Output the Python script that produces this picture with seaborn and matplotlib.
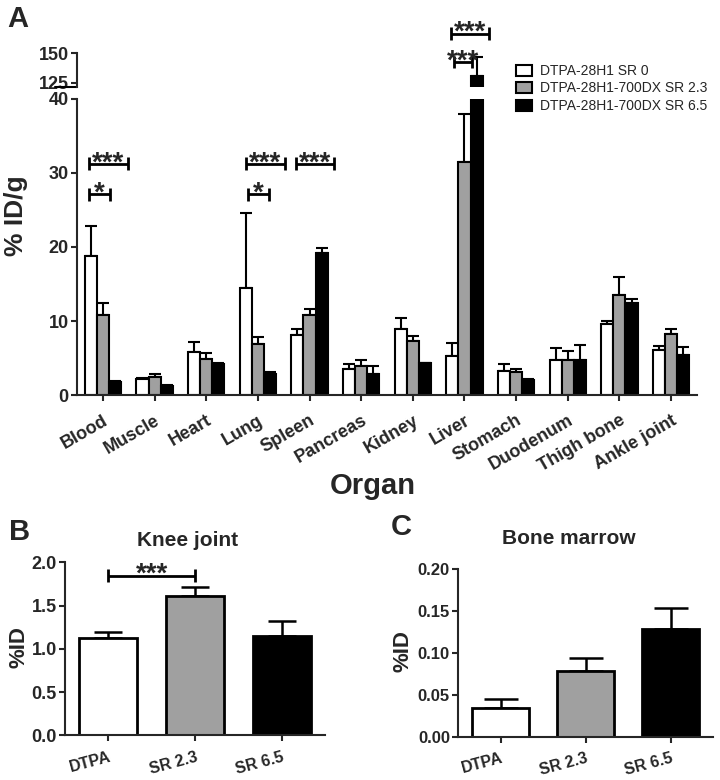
import pandas as pd
import matplotlib
matplotlib.use("Agg")
import matplotlib.pyplot as plt
import seaborn as sns
from matplotlib.patches import Patch

# Panel A: biodistribution, %ID/g (mean and SD)
organs = ["Blood", "Muscle", "Heart", "Lung", "Spleen", "Pancreas", "Kidney",
          "Liver", "Stomach", "Duodenum", "Thigh bone", "Ankle joint"]
groups = ["DTPA-28H1 SR 0", "DTPA-28H1-700DX SR 2.3", "DTPA-28H1-700DX SR 6.5"]

sr0_mean = [18.8, 2.2, 5.8, 14.5, 8.1, 3.5, 8.9, 5.3, 3.3, 4.7, 9.6, 6.1]
sr0_sd = [4.0, 0.1, 1.4, 10.1, 0.8, 0.7, 1.5, 1.7, 0.9, 1.7, 0.4, 0.5]
sr23_mean = [10.8, 2.5, 4.9, 6.9, 10.8, 4.0, 7.3, 31.4, 3.2, 4.7, 13.5, 8.3]
sr23_sd = [1.6, 0.4, 0.8, 1.0, 0.8, 0.7, 0.7, 6.5, 0.3, 1.3, 2.4, 0.7]
sr65_mean = [1.8, 1.3, 4.2, 2.9, 19.2, 2.9, 4.3, 131.0, 2.1, 4.7, 12.5, 5.4]
sr65_sd = [0.1, 0.1, 0.2, 0.3, 0.7, 1.0, 0.1, 16.0, 0.1, 2.1, 0.5, 1.1]

# Panels B and C
conds = ["DTPA", "SR 2.3", "SR 6.5"]
knee_mean = [1.13, 1.61, 1.15]
knee_sd = [0.07, 0.11, 0.17]
marrow_mean = [0.035, 0.079, 0.128]
marrow_sd = [0.010, 0.015, 0.025]

# significance brackets: (organ, left offset, right offset, height, label)
sig_a = [("Blood", -0.27, 0.14, 27.1, "*"),
         ("Blood", -0.27, 0.48, 31.2, "***"),
         ("Lung", -0.19, 0.21, 27.1, "*"),
         ("Lung", -0.23, 0.52, 31.2, "***"),
         ("Spleen", -0.27, 0.48, 31.2, "***")]
sig_liver = [(-0.21, 0.15, 142.5, "***"),
             (-0.27, 0.48, 166.7, "***")]

colors = ["white", "#a0a0a0", "black"]

sns.set_style("ticks")
plt.rcParams["font.family"] = ["Liberation Sans", "DejaVu Sans"]
plt.rcParams["font.weight"] = "bold"
plt.rcParams["axes.linewidth"] = 1.5
plt.rcParams["xtick.major.width"] = 1.5
plt.rcParams["ytick.major.width"] = 1.5
plt.rcParams["xtick.major.size"] = 4
plt.rcParams["ytick.major.size"] = 4

df = pd.DataFrame({
    "organ": organs * 3,
    "group": [g for g in groups for _ in organs],
    "value": sr0_mean + sr23_mean + sr65_mean,
})
sds = [sr0_sd, sr23_sd, sr65_sd]

fig = plt.figure(figsize=(7.2, 7.8), dpi=100)
ax_lo = fig.add_axes([0.107, 0.4932, 0.861, 0.3803])
ax_hi = fig.add_axes([0.107, 0.8885, 0.861, 0.0432], sharex=ax_lo)


def add_errors(ax, containers, errs, capsize, lw):
    for cont, err in zip(containers, errs):
        xs = [b.get_x() + b.get_width() / 2 for b in cont]
        hs = [b.get_height() for b in cont]
        ax.errorbar(xs, hs, yerr=[[0] * len(hs), err], fmt="none", ecolor="black",
                    elinewidth=lw, capsize=capsize, capthick=lw, zorder=0.9)


def bracket(ax, x0, x1, y, label, h):
    kw = dict(color="black", lw=2, clip_on=False, solid_capstyle="butt")
    ax.plot([x0, x1], [y, y], **kw)
    ax.plot([x0, x0], [y - h, y + h], **kw)
    ax.plot([x1, x1], [y - h, y + h], **kw)
    ax.annotate(label, ((x0 + x1) / 2, y), xytext=(0, -4.5), textcoords="offset points",
                ha="center", va="baseline", fontsize=20, fontweight="bold",
                annotation_clip=False)


for ax in (ax_lo, ax_hi):
    sns.barplot(data=df, x="organ", y="value", hue="group", palette=colors,
                width=0.7, errorbar=None, edgecolor="black", linewidth=1.5,
                legend=False, ax=ax)
    add_errors(ax, ax.containers, sds, 4, 1.5)
    ax.set_xlim(-0.5, 11.5)
    ax.set_xlabel("")
    ax.set_ylabel("")
    sns.despine(ax=ax)

ax_lo.set_ylim(0, 40)
ax_lo.set_yticks([0, 10, 20, 30, 40])
ax_lo.tick_params(axis="y", labelsize=13, pad=2)
ax_lo.tick_params(axis="x", labelsize=13, pad=8)
for lab in ax_lo.get_xticklabels():
    lab.set_rotation(30)
    lab.set_ha("right")
    lab.set_va("top")
    lab.set_rotation_mode("anchor")
    lab.set_fontweight("bold")

ax_hi.set_ylim(121.2, 150)
ax_hi.set_yticks([125, 150])
ax_hi.tick_params(axis="y", labelsize=13, pad=2)
ax_hi.spines["bottom"].set_visible(False)
ax_hi.tick_params(axis="x", bottom=False, labelbottom=False)
ax_hi.plot([-0.035, 0], [0, 0], transform=ax_hi.transAxes, color="black",
           lw=1.5, clip_on=False)

for organ, l, r, y, label in sig_a:
    i = organs.index(organ)
    bracket(ax_lo, i + l, i + r, y, label, 0.88)
liv = organs.index("Liver")
for l, r, y, label in sig_liver:
    bracket(ax_hi, liv + l, liv + r, y, label, 5.5)

handles = [Patch(facecolor=c, edgecolor="black", linewidth=1.5) for c in colors]
fig.legend(handles, groups, loc="upper left", bbox_to_anchor=(516 / 720, 1 - 64 / 780),
           frameon=False, prop={"size": 10, "weight": "normal"}, handlelength=1.15,
           handleheight=0.85, handletextpad=0.6, labelspacing=0.25, borderpad=0,
           borderaxespad=0)

fig.text(0.022, 1 - 216 / 780, "% ID/g", rotation=90, ha="center", va="center",
         fontsize=19, fontweight="bold")
fig.text(373 / 720, 1 - 494 / 780, "Organ", ha="center", va="baseline",
         fontsize=21, fontweight="bold")

# Panels B and C
ax_b = fig.add_axes([0.0903, 0.0573, 0.3611, 0.2218])
ax_c = fig.add_axes([0.6365, 0.0551, 0.3538, 0.2154])

for ax, means, errs, cap, lab_size, lab_x in ((ax_b, knee_mean, knee_sd, 10, 13, -0.135),
                                              (ax_c, marrow_mean, marrow_sd, 12, 12, -0.176)):
    sns.barplot(x=conds, y=means, hue=conds, palette=colors, width=0.667,
                edgecolor="black", linewidth=2, legend=False, ax=ax)
    add_errors(ax, ax.containers, [[e] for e in errs], cap, 1.8)
    sns.despine(ax=ax)
    ax.set_xlim(-0.5, 2.5)
    ax.set_ylabel("%ID", fontsize=16, fontweight="bold")
    ax.yaxis.set_label_coords(lab_x, 0.51)
    ax.tick_params(axis="y", labelsize=lab_size, pad=2)
    ax.tick_params(axis="x", labelsize=11.5, pad=6)
    for lab in ax.get_xticklabels():
        lab.set_rotation(15)
        lab.set_ha("right")
        lab.set_va("top")
        lab.set_rotation_mode("anchor")
        lab.set_fontweight("bold")

ax_b.set_ylim(0, 2.0)
ax_b.set_yticks([0, 0.5, 1.0, 1.5, 2.0])
ax_b.set_yticklabels(["0.0", "0.5", "1.0", "1.5", "2.0"])
bracket(ax_b, 0, 1, 1.845, "***", 0.075)

ax_c.set_ylim(0, 0.20)
ax_c.set_yticks([0, 0.05, 0.10, 0.15, 0.20])
ax_c.set_yticklabels(["0.00", "0.05", "0.10", "0.15", "0.20"])

fig.text(188 / 720, 1 - 540 / 780, "Knee joint", ha="center", va="center",
         fontsize=15, fontweight="bold")
fig.text(569 / 720, 1 - 538 / 780, "Bone marrow", ha="center", va="center",
         fontsize=15, fontweight="bold")

fig.text(7 / 720, 1 - 5 / 780, "A", ha="left", va="top", fontsize=21, fontweight="bold")
fig.text(9 / 720, 1 - 518 / 780, "B", ha="left", va="top", fontsize=21, fontweight="bold")
fig.text(391 / 720, 1 - 513 / 780, "C", ha="left", va="top", fontsize=21, fontweight="bold")

fig.savefig("out.png", dpi=100)
